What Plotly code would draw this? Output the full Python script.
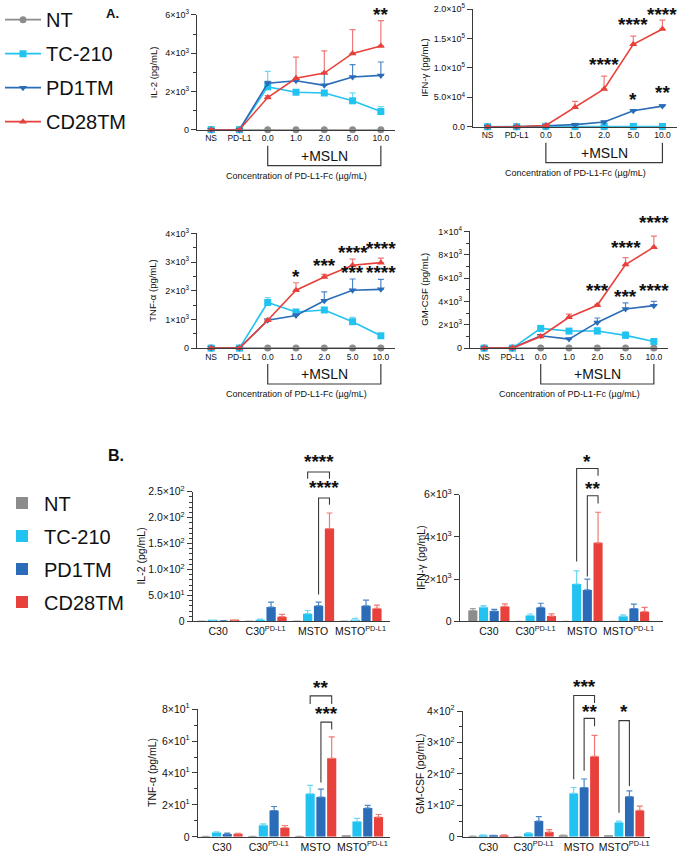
import plotly.graph_objects as go

W, H = 677, 853
FONT = "Liberation Sans, Arial, sans-serif"

# ---------------- data ----------------
series = ["NT", "TC-210", "PD1TM", "CD28TM"]
colors = {"NT": "#8c8c8c", "TC-210": "#22c3f0", "PD1TM": "#2a6cb8", "CD28TM": "#e8413b"}
err_colors = {"NT": "#a0a0a0", "TC-210": "#6fd8f5", "PD1TM": "#4f86c6", "CD28TM": "#f07a75"}
symbols = {"NT": "circle", "TC-210": "square", "PD1TM": "triangle-down", "CD28TM": "triangle-up"}

cats_a = ["NS", "PD-L1", "0.0", "1.0", "2.0", "5.0", "10.0"]

# Panel A: IL-2
il2_a = {
    "NT": [0, 0, 0, 0, 0, 0, 0],
    "TC-210": [0, 0, 2240, 1960, 1920, 1510, 950],
    "PD1TM": [0, 0, 2430, 2560, 2320, 2760, 2840],
    "CD28TM": [0, 0, 1680, 2690, 2960, 3990, 4380],
}
il2_a_err = {
    "NT": [0, 0, 0, 0, 0, 0, 0],
    "TC-210": [0, 0, 810, 120, 100, 410, 260],
    "PD1TM": [0, 0, 100, 100, 680, 640, 700],
    "CD28TM": [0, 0, 100, 1110, 1160, 1240, 1320],
}
# Panel A: IFN-gamma
ifn_a = {
    "NT": [0, 0, 0, 0, 0, 0, 0],
    "TC-210": [0, 0, 800, 600, 500, 500, 400],
    "PD1TM": [0, 0, 1500, 3500, 8000, 27000, 35000],
    "CD28TM": [0, 0, 2000, 33000, 64000, 140000, 166000],
}
ifn_a_err = {
    "NT": [0, 0, 0, 0, 0, 0, 0],
    "TC-210": [0, 0, 300, 200, 200, 200, 200],
    "PD1TM": [0, 0, 300, 500, 1000, 1500, 2000],
    "CD28TM": [0, 0, 500, 10000, 22000, 14000, 15000],
}
# Panel A: TNF-alpha
tnf_a = {
    "NT": [0, 0, 0, 0, 0, 0, 0],
    "TC-210": [0, 0, 1590, 1260, 1330, 920, 430],
    "PD1TM": [0, 0, 970, 1140, 1650, 2020, 2050],
    "CD28TM": [0, 0, 970, 2020, 2480, 2890, 2980],
}
tnf_a_err = {
    "NT": [0, 0, 0, 0, 0, 0, 0],
    "TC-210": [0, 0, 170, 60, 60, 150, 40],
    "PD1TM": [0, 0, 50, 60, 310, 390, 350],
    "CD28TM": [0, 0, 50, 260, 90, 210, 160],
}
# Panel A: GM-CSF
gm_a = {
    "NT": [0, 0, 0, 0, 0, 0, 0],
    "TC-210": [0, 0, 1690, 1460, 1460, 1090, 570],
    "PD1TM": [0, 0, 1060, 770, 2200, 3350, 3640],
    "CD28TM": [0, 0, 1000, 2640, 3670, 7160, 8650],
}
gm_a_err = {
    "NT": [0, 0, 0, 0, 0, 0, 0],
    "TC-210": [0, 0, 100, 80, 290, 310, 80],
    "PD1TM": [0, 0, 80, 60, 380, 520, 370],
    "CD28TM": [0, 0, 80, 280, 80, 600, 950],
}

cats_b = ["C30", "C30<sup>PD-L1</sup>", "MSTO", "MSTO<sup>PD-L1</sup>"]

il2_b = {"NT": [0.3, 0.3, 0.3, 0.3], "TC-210": [1.5, 3.2, 14.8, 2.0],
         "PD1TM": [1.0, 27.6, 30.0, 30.0], "CD28TM": [2.0, 9.0, 179.0, 25.0]}
il2_b_err = {"NT": [0, 0, 0, 0], "TC-210": [0.5, 1.0, 6.2, 3.8],
             "PD1TM": [0.5, 9.4, 7.0, 11.0], "CD28TM": [0.5, 4.5, 30.0, 6.5]}
ifn_b = {"NT": [520, 0, 0, 0], "TC-210": [675, 280, 1770, 240],
         "PD1TM": [490, 660, 1490, 610], "CD28TM": [710, 250, 3720, 460]}
ifn_b_err = {"NT": [90, 0, 0, 0], "TC-210": [75, 70, 620, 70],
             "PD1TM": [80, 200, 510, 210], "CD28TM": [120, 110, 1450, 200]}
tnf_b = {"NT": [0.3, 0.3, 0.3, 0.5], "TC-210": [2.7, 7.3, 27.0, 9.6],
         "PD1TM": [1.7, 16.5, 24.9, 18.0], "CD28TM": [1.9, 5.7, 49.2, 12.4]}
tnf_b_err = {"NT": [0, 0, 0, 0], "TC-210": [0.4, 0.9, 5.2, 1.9],
             "PD1TM": [0.6, 2.5, 5.0, 1.7], "CD28TM": [0.3, 1.4, 13.4, 1.6]}
gm_b = {"NT": [2.0, 1.0, 5.3, 4.0], "TC-210": [5.3, 11.7, 138.0, 45.6],
        "PD1TM": [4.0, 50.0, 157.0, 128.0], "CD28TM": [5.0, 15.0, 256.0, 84.0]}
gm_b_err = {"NT": [0, 0, 0, 0], "TC-210": [1.0, 1.5, 19.0, 4.4],
            "PD1TM": [1.0, 14.0, 27.0, 18.0], "CD28TM": [1.0, 8.0, 67.0, 14.0]}

# significance stars in panel A: (panel, category index, y value, label)
stars_a = [
    ("A1", 6, 6390, "**"),
    ("A2", 4, 103800, "****"), ("A2", 5, 170000, "****"), ("A2", 6, 200000, "****"),
    ("A2", 5, 45500, "*"), ("A2", 6, 57800, "**"),
    ("A3", 3, 2500, "*"), ("A3", 4, 2890, "***"), ("A3", 5, 3340, "****"),
    ("A3", 6, 3480, "****"), ("A3", 5, 2640, "***"), ("A3", 6, 2640, "****"),
    ("A4", 4, 4960, "***"), ("A4", 5, 8630, "****"), ("A4", 5, 4440, "***"),
    ("A4", 6, 4960, "****"), ("A4", 6, 10770, "****"),
]
# comparison brackets in panel B:
# (panel, group, series idx from, series idx to, bracket level, left leg end, right leg end, label, label level)
brackets_b = [
    ("B1", 2, 1, 3, 288, 275, 275, "****", 308),
    ("B1", 2, 2, 3, 238, 52, 225, "****", 258),
    ("B2", 2, 1, 3, 7240, 2840, 6900, "*", 7560),
    ("B2", 2, 2, 3, 5950, 2130, 5590, "**", 6300),
    ("B3", 2, 1, 3, 88.3, 83.3, 83.3, "**", 93.8),
    ("B3", 2, 2, 3, 71.9, 34, 67.3, "***", 77.3),
    ("B4", 2, 1, 3, 450, 183, 426, "***", 479),
    ("B4", 2, 2, 3, 377, 210, 352, "**", 398),
    ("B4", 3, 1, 2, 370, 77, 162, "*", 398),
]

# ---------------- layout of panels (target picture pixels) ----------------
panels = {
    "A1": dict(n=1, xdom=(197, 395), ydom=(12, 127), xr=(-0.5, 6.5), yr=(0, 6000),
               tv=[0, 2000, 4000, 6000], tt=["0", "2×10<sup>3</sup>", "4×10<sup>3</sup>", "6×10<sup>3</sup>"],
               minor=1000, title="IL-2 (pg/mL)", tx=153, data=il2_a, err=il2_a_err),
    "A2": dict(n=2, xdom=(473, 677), ydom=(4, 124), xr=(-0.5, 6.5), yr=(0, 200000),
               tv=[0, 50000, 100000, 150000, 200000],
               tt=["0.0", "5.0×10<sup>4</sup>", "1.0×10<sup>5</sup>", "1.5×10<sup>5</sup>", "2.0×10<sup>5</sup>"],
               minor=None, title="IFN-γ (pg/mL)", tx=425, data=ifn_a, err=ifn_a_err),
    "A3": dict(n=3, xdom=(197, 395), ydom=(231, 346), xr=(-0.5, 6.5), yr=(0, 4000),
               tv=[0, 1000, 2000, 3000, 4000],
               tt=["0", "1×10<sup>3</sup>", "2×10<sup>3</sup>", "3×10<sup>3</sup>", "4×10<sup>3</sup>"],
               minor=500, title="TNF-α (pg/mL)", tx=153, data=tnf_a, err=tnf_a_err),
    "A4": dict(n=4, xdom=(470, 668), ydom=(229, 346), xr=(-0.5, 6.5), yr=(0, 10000),
               tv=[0, 2000, 4000, 6000, 8000, 10000],
               tt=["0", "2×10<sup>3</sup>", "4×10<sup>3</sup>", "6×10<sup>3</sup>", "8×10<sup>3</sup>", "1×10<sup>4</sup>"],
               minor=1000, title="GM-CSF (pg/mL)", tx=425, data=gm_a, err=gm_a_err),
    "B1": dict(n=5, xdom=(193, 390), ydom=(490, 620), xr=(-0.53, 3.62), yr=(0, 250),
               tv=[0, 50, 100, 150, 200, 250],
               tt=["0", "5.0×10<sup>1</sup>", "1.0×10<sup>2</sup>", "1.5×10<sup>2</sup>", "2.0×10<sup>2</sup>", "2.5×10<sup>2</sup>"],
               minor=10, title="IL-2 (pg/mL)", tx=141, data=il2_b, err=il2_b_err),
    "B2": dict(n=6, xdom=(460, 663), ydom=(493, 620), xr=(-0.62, 3.74), yr=(0, 6000),
               tv=[0, 2000, 4000, 6000], tt=["0", "2×10<sup>3</sup>", "4×10<sup>3</sup>", "6×10<sup>3</sup>"],
               minor=None, title="IFN-γ (pg/mL)", tx=421, data=ifn_b, err=ifn_b_err),
    "B3": dict(n=7, xdom=(198, 390), ydom=(708, 836), xr=(-0.51, 3.59), yr=(0, 80),
               tv=[0, 20, 40, 60, 80],
               tt=["0", "2×10<sup>1</sup>", "4×10<sup>1</sup>", "6×10<sup>1</sup>", "8×10<sup>1</sup>"],
               minor=10, title="TNF-α (pg/mL)", tx=152, data=tnf_b, err=tnf_b_err),
    "B4": dict(n=8, xdom=(463, 650), ydom=(710, 836), xr=(-0.56, 3.57), yr=(0, 400),
               tv=[0, 100, 200, 300, 400],
               tt=["0", "1×10<sup>2</sup>", "2×10<sup>2</sup>", "3×10<sup>2</sup>", "4×10<sup>2</sup>"],
               minor=50, title="GM-CSF (pg/mL)", tx=420, data=gm_b, err=gm_b_err),
}

BARGAP = 0.08
BARGROUPGAP = 0.15
AXC = "#3a3a3a"
STAR_FONT = dict(size=19, family=FONT, color="#111", weight="bold")

# vertical correction between layout pixels and photographed pixels
VS, VT = 0.985, 6.0


def Ly(py):
    return (py - VT) / VS


def ypx(py):
    return min(1.0, max(0.0, 1 - Ly(py) / H))


def fx(p, v):
    x0, x1 = p["xdom"]; r0, r1 = p["xr"]
    return (x0 + (v - r0) / (r1 - r0) * (x1 - x0)) / W


def fy(p, v):
    top, bot = p["ydom"]; r0, r1 = p["yr"]
    yb, yt = ypx(bot), ypx(top)
    return yb + (v - r0) / (r1 - r0) * (yt - yb)


def fy_free(p, v):
    top, bot = p["ydom"]; r0, r1 = p["yr"]
    py = bot - (v - r0) / (r1 - r0) * (bot - top)
    return 1 - Ly(py) / H


fig = go.Figure()
layout = dict(
    width=W, height=H, margin=dict(l=0, r=0, t=0, b=0),
    paper_bgcolor="white", plot_bgcolor="white",
    font=dict(family=FONT, color="#111"),
    barmode="group", bargap=BARGAP, bargroupgap=BARGROUPGAP,
    shapes=[], annotations=[],
)

for key, p in panels.items():
    n = p["n"]
    xa = "x" if n == 1 else f"x{n}"
    ya = "y" if n == 1 else f"y{n}"
    is_a = key.startswith("A")
    for s in series:
        vals = p["data"][s]
        errs = p["err"][s]
        ey = dict(type="data", array=errs, arrayminus=[0] * len(errs), symmetric=False,
                  color=err_colors[s], thickness=1.2, width=3, visible=True)
        if is_a:
            fig.add_trace(go.Scatter(
                x=list(range(len(cats_a))), y=vals, name=s, mode="lines+markers",
                line=dict(color=colors[s], width=1.6),
                marker=dict(symbol=symbols[s], size=7, color=colors[s]),
                error_y=ey, xaxis=xa, yaxis=ya, cliponaxis=False,
                showlegend=(key == "A1"), legend="legend", legendgroup="a" + s,
            ))
        else:
            fig.add_trace(go.Bar(
                x=list(range(len(cats_b))), y=vals, name=s,
                marker=dict(color=colors[s], line=dict(width=0)),
                error_y=ey, xaxis=xa, yaxis=ya,
                showlegend=(key == "B1"), legend="legend2", legendgroup="b" + s,
            ))

    xd = (p["xdom"][0] / W, p["xdom"][1] / W)
    yd = (ypx(p["ydom"][1]), ypx(p["ydom"][0]))
    xname = "xaxis" if n == 1 else f"xaxis{n}"
    yname = "yaxis" if n == 1 else f"yaxis{n}"
    cats = cats_a if is_a else cats_b
    layout[xname] = dict(
        domain=list(xd), anchor=ya, range=list(p["xr"]), showgrid=False, zeroline=False,
        showline=True, linecolor=AXC, linewidth=1.4, ticks="",
        tickvals=list(range(len(cats))), ticktext=cats,
        tickfont=dict(size=8.5 if is_a else 10.5, family=FONT, color="#111"),
        fixedrange=True,
    )
    ydict = dict(
        domain=list(yd), anchor=xa, range=list(p["yr"]), showgrid=False, zeroline=False,
        showline=True, linecolor=AXC, linewidth=1.4, ticks="outside", ticklen=5,
        tickwidth=1.2, tickcolor=AXC, tickvals=p["tv"], ticktext=p["tt"],
        tickfont=dict(size=9 if is_a else 10.5, family=FONT, color="#111"), fixedrange=True,
    )
    if p["minor"]:
        ydict["minor"] = dict(dtick=p["minor"], ticks="outside", ticklen=3, tickwidth=1,
                              tickcolor=AXC, showgrid=False)
    layout[yname] = ydict

    # y-axis title
    layout["annotations"].append(dict(
        text=p["title"], xref="paper", yref="paper", x=p["tx"] / W,
        y=(yd[0] + yd[1]) / 2, textangle=-90, showarrow=False,
        font=dict(size=9.5 if is_a else 10.5, family=FONT, color="#111"),
        xanchor="center", yanchor="middle",
    ))

    if is_a:
        bot = p["ydom"][1]
        xl, xr_ = fx(p, 2), fx(p, 6)
        layout["shapes"].append(dict(
            type="path", xref="paper", yref="paper",
            path=f"M {xl},{ypx(bot + 16)} L {xl},{ypx(bot + 36)} L {xr_},{ypx(bot + 36)} L {xr_},{ypx(bot + 16)}",
            line=dict(color=AXC, width=1.2),
        ))
        layout["annotations"].append(dict(
            text="+MSLN", xref="paper", yref="paper", x=fx(p, 4), y=ypx(bot + 26),
            showarrow=False, font=dict(size=14, family=FONT, color="#111"),
            xanchor="center", yanchor="middle",
        ))
        layout["annotations"].append(dict(
            text="Concentration of PD-L1-Fc (µg/mL)", xref="paper", yref="paper",
            x=fx(p, 3), y=ypx(bot + 46), showarrow=False,
            font=dict(size=9, family=FONT, color="#111"), xanchor="center", yanchor="middle",
        ))

# stars panel A
for key, xi, yv, lab in stars_a:
    p = panels[key]
    layout["annotations"].append(dict(
        text=lab, xref="paper", yref="paper", x=fx(p, xi), y=min(fy_free(p, yv), 1 - 6 / H),
        showarrow=False, font=STAR_FONT, xanchor="center", yanchor="middle",
    ))

# brackets panel B
slot = (1 - BARGAP) / 4
for key, g, s1, s2, lvl, l1, l2, lab, tl in brackets_b:
    p = panels[key]
    x1 = fx(p, g + (s1 - 1.5) * slot)
    x2 = fx(p, g + (s2 - 1.5) * slot)
    layout["shapes"].append(dict(
        type="path", xref="paper", yref="paper",
        path=f"M {x1},{fy_free(p, l1)} L {x1},{fy_free(p, lvl)} L {x2},{fy_free(p, lvl)} L {x2},{fy_free(p, l2)}",
        line=dict(color=AXC, width=1.1),
    ))
    layout["annotations"].append(dict(
        text=lab, xref="paper", yref="paper", x=(x1 + x2) / 2, y=fy_free(p, tl),
        showarrow=False, font=STAR_FONT, xanchor="center", yanchor="middle",
    ))

# panel letters
layout["annotations"].append(dict(text="<b>A.</b>", xref="paper", yref="paper", x=112 / W, y=ypx(11),
                                  showarrow=False, font=dict(size=13, family=FONT, color="#111"),
                                  xanchor="center", yanchor="middle"))
layout["annotations"].append(dict(text="<b>B.</b>", xref="paper", yref="paper", x=116 / W, y=ypx(454),
                                  showarrow=False, font=dict(size=16, family=FONT, color="#111"),
                                  xanchor="center", yanchor="middle"))

layout["legend"] = dict(x=0, y=1 + 9 / H, xanchor="left", yanchor="top",
                        font=dict(size=20, family=FONT, color="#111"),
                        itemwidth=36, traceorder="grouped", tracegroupgap=5, bgcolor="rgba(0,0,0,0)")
layout["legend2"] = dict(x=0, y=1 - 483 / H, xanchor="left", yanchor="top",
                         font=dict(size=20, family=FONT, color="#111"),
                         itemwidth=34, traceorder="grouped", tracegroupgap=4, bgcolor="rgba(0,0,0,0)")

fig.update_layout(**layout)
post = (
    "document.documentElement.style.margin='0';"
    "document.documentElement.style.overflow='hidden';"
    "document.body.style.margin='0';document.body.style.padding='0';"
    "document.body.style.overflow='hidden';"
    "var d=document.getElementById('{plot_id}');"
    "d.style.position='absolute';d.style.left='0px';d.style.top='0px';"
    "d.style.width='677px';d.style.height='853px';"
)
fig.write_html("out.html", post_script=post, config={"displayModeBar": False})
